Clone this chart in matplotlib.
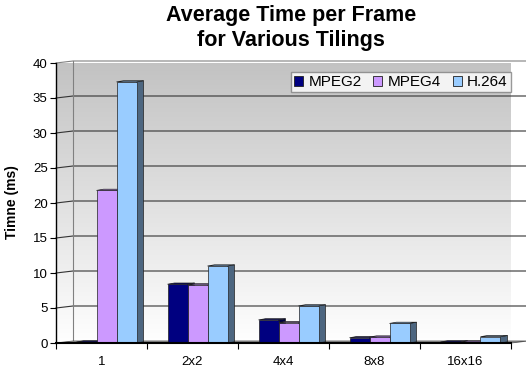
import numpy as np
import matplotlib
matplotlib.use('Agg')
import matplotlib.pyplot as plt
from matplotlib.patches import Polygon, Patch
from matplotlib.colors import LinearSegmentedColormap, to_rgb

categories = ['1', '2x2', '4x4', '8x8', '16x16']
mpeg2 = [0.15, 8.4, 3.3, 0.75, 0.15]
mpeg4 = [21.8, 8.3, 2.9, 0.85, 0.15]
h264 = [37.3, 11.0, 5.3, 2.8, 0.9]
series_names = ['MPEG2', 'MPEG4', 'H.264']
series_colors = ['#000080', '#cc99ff', '#99ccff']
y_ticks = [0, 5, 10, 15, 20, 25, 30, 35, 40]

plt.rcParams['font.family'] = ['Liberation Sans', 'DejaVu Sans']

# figure and plot area in pixels
W, H, DPI = 526, 370, 100
AX_L, AX_B, AX_W, AX_H = 56, 27, 455, 280
Y_MAX = 40

# pixel -> data unit conversion for the pseudo 3d offsets
px_x = len(categories) / AX_W
px_y = Y_MAX / AX_H

WALL_DX, WALL_DY = 17 * px_x, 2 * px_y
BAR_OFF = 5 * px_x
BAR_W = 20 * px_x
BAR_DX, BAR_DY = 7 * px_x, 1.2 * px_y

fig = plt.figure(figsize=(W / DPI, H / DPI), dpi=DPI)
fig.set_facecolor('white')
ax = fig.add_axes([AX_L / W, AX_B / H, AX_W / W, AX_H / H])
ax.set_facecolor('none')

x0, x1 = -0.5, len(categories) - 0.5

# gradient on the back and side walls
wall_cmap = LinearSegmentedColormap.from_list('wall', ['#ffffff', '#c2c2c2'])
grad = np.linspace(1, 0, 256)[:, None]

back = Polygon([(x0 + WALL_DX, WALL_DY), (x1 + WALL_DX, WALL_DY),
                (x1 + WALL_DX, Y_MAX + WALL_DY), (x0 + WALL_DX, Y_MAX + WALL_DY)],
               closed=True, facecolor='none', edgecolor='none')
side = Polygon([(x0, 0), (x0 + WALL_DX, WALL_DY),
                (x0 + WALL_DX, Y_MAX + WALL_DY), (x0, Y_MAX)],
               closed=True, facecolor='none', edgecolor='none')
for wall in (back, side):
    ax.add_patch(wall)
    wall.set_clip_on(False)
    im = ax.imshow(grad, cmap=wall_cmap, vmin=0, vmax=1, aspect='auto',
                   extent=(x0, x1 + WALL_DX, 0, Y_MAX + WALL_DY), zorder=0,
                   interpolation='bilinear')
    im.set_clip_path(wall)

# gridlines on both walls
for y in y_ticks[1:]:
    c = '#808080' if y == Y_MAX else '#333333'
    ax.plot([x0, x0 + WALL_DX, x1 + WALL_DX], [y, y + WALL_DY, y + WALL_DY],
            color=c, lw=0.8, zorder=1, clip_on=False)
ax.plot([x0 + WALL_DX, x0 + WALL_DX], [WALL_DY, Y_MAX + WALL_DY],
        color='#808080', lw=0.8, zorder=1, clip_on=False)

# floor
floor = Polygon([(x0, 0), (x1, 0), (x1 + WALL_DX, WALL_DY), (x0 + WALL_DX, WALL_DY)],
                closed=True, facecolor='#9a9a9a', edgecolor='#555555', lw=0.6,
                zorder=2, clip_on=False)
ax.add_patch(floor)

# columns: front face, top and dark right side
x = np.arange(len(categories))
group_w = BAR_W * len(series_names)
for j, (vals, color) in enumerate(zip([mpeg2, mpeg4, h264], series_colors)):
    rgb = np.array(to_rgb(color))
    left = x - group_w / 2 + BAR_OFF + j * BAR_W
    z = 3 + j
    for xl, v in zip(left, vals):
        xr = xl + BAR_W
        ax.add_patch(Polygon([(xr, 0), (xr + BAR_DX, BAR_DY), (xr + BAR_DX, v + BAR_DY), (xr, v)],
                             closed=True, facecolor=rgb * 0.5, edgecolor='#202020',
                             lw=0.5, zorder=z, clip_on=False))
        ax.add_patch(Polygon([(xl, v), (xr, v), (xr + BAR_DX, v + BAR_DY), (xl + BAR_DX, v + BAR_DY)],
                             closed=True, facecolor=rgb * 0.8, edgecolor='#202020',
                             lw=0.5, zorder=z, clip_on=False))
    ax.bar(left, vals, width=BAR_W, align='edge', color=color,
           edgecolor='#202020', lw=0.5, zorder=z + 0.5, clip_on=False)

ax.set_xlim(x0, x1)
ax.set_ylim(0, Y_MAX)

for s in ['top', 'right']:
    ax.spines[s].set_visible(False)
ax.spines['left'].set_linewidth(1.0)
ax.spines['bottom'].set_linewidth(1.5)
for s in ax.spines.values():
    s.set_zorder(10)

ax.set_yticks(y_ticks)
ax.tick_params(axis='y', direction='out', length=4, width=0.8, pad=2, labelsize=9.5)
ax.set_xticks(np.arange(len(categories) + 1) - 0.5)
ax.set_xticklabels([])
ax.set_xticks(x, minor=True)
ax.set_xticklabels(categories, minor=True)
ax.tick_params(axis='x', which='major', direction='out', length=4, width=0.8)
ax.tick_params(axis='x', which='minor', length=0, pad=9.5, labelsize=9.5)

fig.text(12 / W, 1 - 202 / H, 'Timne (ms)', rotation=90, ha='center', va='center',
         fontsize=10, fontweight='bold')
fig.text(291 / W, 1 - 5 / H, 'Average Time per Frame\nfor Various Tilings',
         ha='center', va='top', fontsize=15.5, fontweight='bold', linespacing=1.28)

handles = [Patch(facecolor=c, edgecolor='#202020', lw=0.6) for c in series_colors]
leg = ax.legend(handles, series_names, ncol=3, loc='upper left',
                bbox_to_anchor=(291 / W, 1 - 72 / H), bbox_transform=fig.transFigure,
                borderaxespad=0, fontsize=11, frameon=True, fancybox=False,
                handlelength=0.6, handleheight=0.6, handletextpad=0.35,
                columnspacing=0.75, borderpad=0.2)
leg.get_frame().set_edgecolor('#808080')
leg.get_frame().set_linewidth(1.0)
leg.set_zorder(20)

fig.savefig('out.png', dpi=DPI)
